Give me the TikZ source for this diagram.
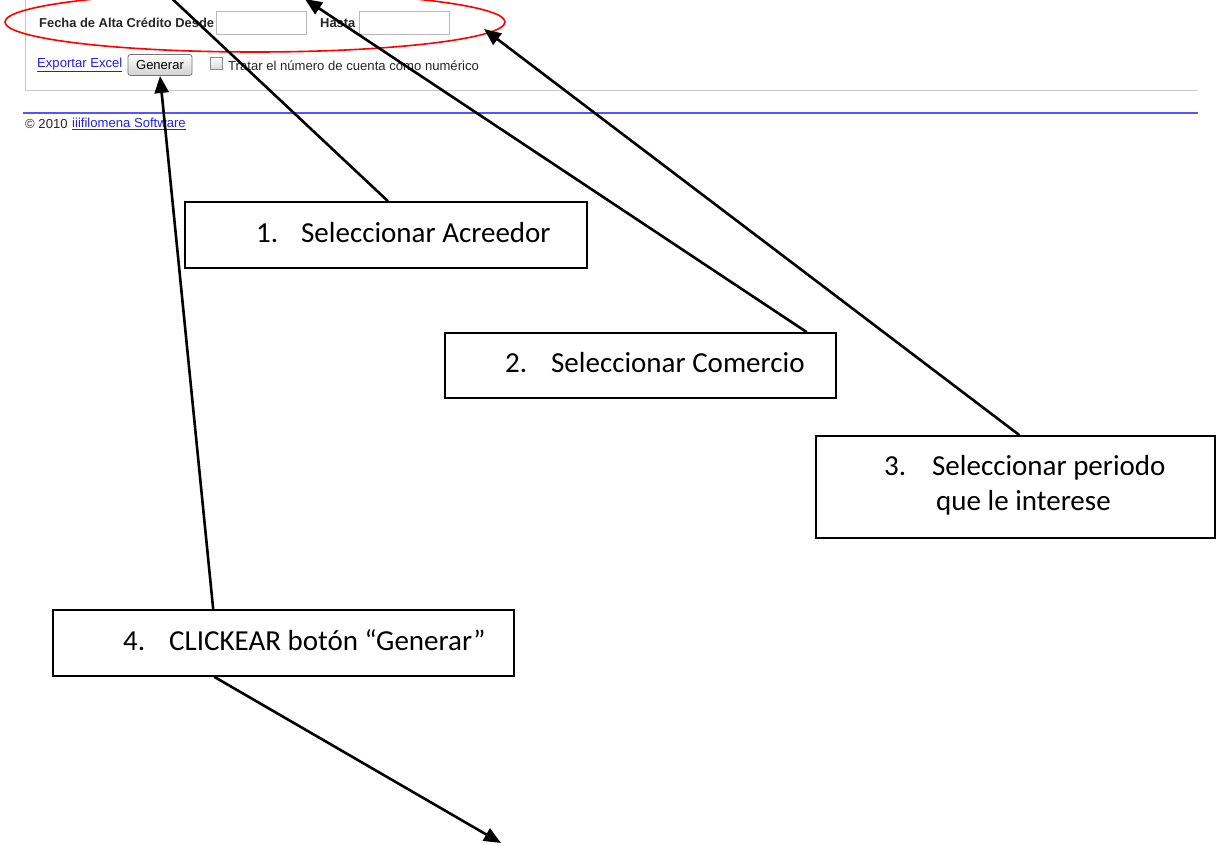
\documentclass[tikz,border=0pt]{standalone}
\usepackage{fontspec}
\setmainfont{Liberation Sans}
\newfontfamily\calib{Carlito}
\usetikzlibrary{arrows.meta,shapes.geometric}
\definecolor{linkblue}{RGB}{32,32,230}
\definecolor{footline}{RGB}{85,85,255}
\definecolor{panelgray}{RGB}{200,200,200}
\definecolor{inputgray}{RGB}{185,185,185}
\begin{document}
\begin{tikzpicture}[x=1pt,y=-1pt,
  webtxt/.style={inner sep=0pt,font=\fontsize{13.1}{15}\selectfont},
  webbold/.style={webtxt,font=\fontsize{12.9}{15}\selectfont\bfseries,text=black!85},
  weblink/.style={webtxt,text=linkblue},
  inbox/.style={draw=inputgray,line width=0.8pt,minimum width=90pt,minimum height=23pt,inner sep=0pt},
  btn/.style={draw=black!55,rounded corners=2.5pt,top color=white,bottom color=black!18,line width=0.8pt,
    minimum width=64pt,minimum height=21pt,inner sep=0pt,font=\fontsize{13}{15}\selectfont},
  chk/.style={draw=black!45,top color=white,bottom color=black!15,minimum size=12pt,inner sep=0pt,line width=0.7pt},
  stepbox/.style={draw,line width=1.6pt,fill=white,inner sep=0pt},
  lbl/.style={inner sep=0pt,anchor=base west,font=\calib\fontsize{29}{35}\selectfont},
  arr/.style={line width=2.6pt,-{Triangle[length=17pt,width=14pt]}}
]
\useasboundingbox (0,0) rectangle (1221,846);
\clip (0,0) rectangle (1221,846);
\fill[white] (0,0) rectangle (1221,846);

% web panel
\draw[panelgray,line width=1pt] (25,0) -- (25,90) -- (1198,90);
\draw[footline,line width=1.1pt] (23,113) -- (1198,113);

\node[webbold,anchor=west] (fecha) at (39,23) {Fecha de Alta Crédito Desde};
\node[inbox] (in1) at (261.5,22.5) {};
\node[webbold,anchor=west] (hasta) at (320,23) {Hasta};
\node[inbox] (in2) at (404.5,22.5) {};

\node[weblink,anchor=west] (excel) at (37,65) {\underline{Exportar Excel}};
\node[btn] (gen) at (160,65) {Generar};
\node[chk] (cb) at (216,63) {};
\node[webtxt,anchor=west,text=black!85] (tratar) at (228,66) {Tratar el número de cuenta como numérico};

\node[webtxt,anchor=west,text=black!85] (copy) at (25,124) {© 2010};
\node[weblink,anchor=west] (soft) at (72,124) {\underline{iiifilomena Software}};

% red ellipse
\node[draw=red,line width=1.6pt,ellipse,minimum width=500pt,minimum height=60pt,inner sep=0pt] (ell) at (255,22) {};

% step boxes
\node[stepbox,minimum width=402pt,minimum height=66pt] (b1) at (386,235) {};
\node[stepbox,minimum width=391pt,minimum height=65pt] (b2) at (640.5,365.5) {};
\node[stepbox,minimum width=399pt,minimum height=102pt] (b3) at (1015.5,487) {};
\node[stepbox,minimum width=461pt,minimum height=66pt] (b4) at (283.5,643) {};

\node[lbl] (l1) at (256,242) {\makebox[45pt][l]{1.}Seleccionar Acreedor};
\node[lbl] (l2) at (505,372) {\makebox[46pt][l]{2.}Seleccionar Comercio};
\node[lbl] (l3a) at (884,475) {\makebox[48pt][l]{3.}Seleccionar periodo};
\node[lbl] (l3b) at (936,510) {que le interese};
\node[lbl] (l4) at (123,650) {\makebox[46pt][l]{4.}CLICKEAR botón “Generar”};

% arrow targets
\coordinate (t1) at (150,-22);
\coordinate (t2) at (305,-1);
\coordinate (t3) at (484,29);
\coordinate (t4) at (160,76);
\coordinate (t5) at (501,843);

\draw[arr] ([xshift=2pt]b1.north) -- (t1);
\draw[arr] ([xshift=-30pt]b2.north east) -- (t2);
\draw[arr] ([xshift=4pt]b3.north) -- (t3);
\draw[arr] ([xshift=161pt]b4.north west) -- (t4);
\draw[arr] ([xshift=162pt]b4.south west) -- (t5);
\end{tikzpicture}
\end{document}
